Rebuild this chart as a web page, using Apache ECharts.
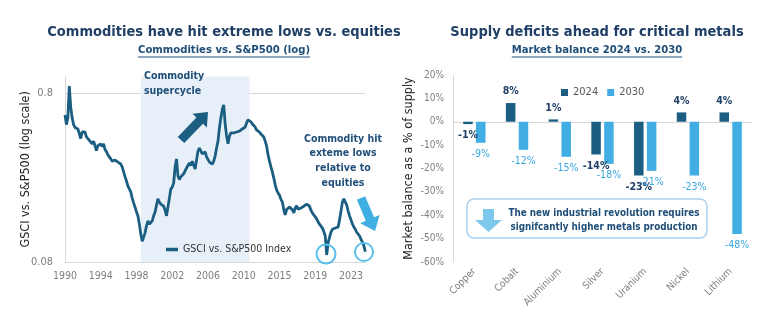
<!DOCTYPE html>
<html><head><meta charset="utf-8">
<script src="https://cdn.jsdelivr.net/npm/echarts@6/dist/echarts.min.js"></script>
<style>html,body{margin:0;padding:0;background:#fff}#c{width:768px;height:332px}</style>
</head><body><div id="c"></div>
<script>
const FONT = "'DejaVu Sans Condensed','DejaVu Sans',sans-serif";

// ---- left chart data ----
const xTickLabels = ['1990','1994','1998','2002','2006','2010','2015','2019','2023'];
const yTickLabels = ['0.08','0.8'];
const gsci = [
0.593,0.52,0.57,0.88,0.66,0.57,0.52,0.50,0.50,0.49,
0.46,0.43,0.47,0.46,0.47,0.44,0.45,0.42,0.42,0.40,
0.415,0.39,0.365,0.39,0.38,0.40,0.385,0.40,0.37,0.36,
0.344,0.335,0.326,0.316,0.312,0.321,0.316,0.312,0.308,0.304,
0.292,0.273,0.255,0.241,0.225,0.219,0.208,0.191,0.179,0.169,
0.158,0.150,0.134,0.117,0.106,0.107,0.119,0.131,0.140,0.134,
0.134,0.140,0.150,0.158,0.174,0.189,0.181,0.176,0.174,0.171,
0.162,0.150,0.154,0.191,0.216,0.222,0.235,0.292,0.326,0.258,
0.246,0.255,0.250,0.266,0.265,0.288,0.292,0.308,0.298,0.316,
0.312,0.284,0.321,0.363,0.378,0.363,0.349,0.358,0.358,0.335,
0.326,0.312,0.304,0.304,0.316,0.339,0.378,0.415,0.497,0.569,
0.64,0.68,0.524,0.445,0.40,0.445,0.464,0.457,0.464,0.470,
0.470,0.476,0.476,0.483,0.490,0.497,0.503,0.532,0.554,0.547,
0.54,0.524,0.51,0.503,0.483,0.476,0.470,0.457,0.451,0.439,
0.415,0.388,0.344,0.316,0.292,0.273,0.251,0.229,0.213,0.205,
0.199,0.188,0.181,0.163,0.152,0.164,0.161,0.169,0.173,0.163,
0.156,0.167,0.172,0.164,0.160,0.167,0.164,0.171,0.168,0.176,
0.179,0.171,0.162,0.156,0.152,0.148,0.144,0.138,0.134,0.131,
0.127,0.121,0.114,0.088,0.104,0.112,0.12,0.125,0.125,0.127,
0.129,0.129,0.142,0.160,0.181,0.189,0.181,0.174,0.160,0.150,
0.142,0.134,0.129,0.125,0.12,0.119,0.114,0.109,0.105,0.100,
0.092
];
const supercycle = [53, 129]; // category index range of the shaded band

// ---- right chart data ----
const metals = ['Copper','Cobalt','Aluminium','Silver','Uranium','Nickel','Lithium'];
const bal2024 = [-1, 8, 1, -14, -23, 4, 4];
const bal2030 = [-9, -12, -15, -18, -21, -23, -48];

const NAVY = '#1f3f66', NAVY2 = '#1f4e79', DARK = '#1b5e82', LIGHT = '#41ade2', GRAY = '#7f7f7f';
const xCats = gsci.map((_, i) => String(i));
const logMaxSpan = Math.log10(1 / 0.08);

function arrowPts(x1, y1, x2, y2, sw, hw, hl) {
  const dx = x2 - x1, dy = y2 - y1, L = Math.hypot(dx, dy);
  const ux = dx / L, uy = dy / L, nx = -uy, ny = ux;
  const bx = x2 - ux * hl, by = y2 - uy * hl;
  return [
    [x1 + nx * sw / 2, y1 + ny * sw / 2], [bx + nx * sw / 2, by + ny * sw / 2],
    [bx + nx * hw / 2, by + ny * hw / 2], [x2, y2],
    [bx - nx * hw / 2, by - ny * hw / 2], [bx - nx * sw / 2, by - ny * sw / 2],
    [x1 - nx * sw / 2, y1 - ny * sw / 2]
  ];
}
const mctx = document.createElement('canvas').getContext('2d');
function tw(text, font) { mctx.font = font; return mctx.measureText(text).width; }

const titleFont = 'bold 14.5px ' + FONT, subFont = 'bold 11.2px ' + FONT;
function titleGroup(cx, title, sub) {
  const w = tw(sub, subFont);
  return [
    { type: 'text', x: cx, y: 32, z: 100, style: { text: title, font: titleFont, fill: NAVY, align: 'center', verticalAlign: 'middle' } },
    { type: 'text', x: cx, y: 50.5, z: 100, style: { text: sub, font: subFont, fill: NAVY2, align: 'center', verticalAlign: 'middle' } },
    { type: 'line', z: 100, shape: { x1: cx - w / 2, y1: 57, x2: cx + w / 2, y2: 57 }, style: { stroke: NAVY2, lineWidth: 1 } }
  ];
}

const chart = echarts.init(document.getElementById('c'), null, { renderer: 'canvas' });
chart.setOption({
  animation: false,
  textStyle: { fontFamily: FONT },
  grid: [
    { left: 65, top: 76.6, width: 300.3, height: 185.4 },
    { left: 453, top: 75, right: 16, height: 187 }
  ],
  legend: [
    { data: ['GSCI vs. S&P500 Index'], left: 161, top: 239, icon: 'rect', itemWidth: 12, itemHeight: 3.5, itemGap: 4,
      textStyle: { fontSize: 10.5, color: '#333', fontFamily: FONT } },
    { data: ['2024', '2030'], left: 556, top: 82, icon: 'rect', itemWidth: 7, itemHeight: 7, itemGap: 9,
      textStyle: { fontSize: 11, color: '#595959', fontFamily: FONT } }
  ],
  xAxis: [
    { type: 'category', gridIndex: 0, data: xCats, boundaryGap: false,
      axisLine: { onZero: false, lineStyle: { color: '#d9d9d9' } }, axisTick: { show: false },
      axisLabel: { interval: 24, color: GRAY, fontSize: 10.5, margin: 9,
        formatter: (v, i) => xTickLabels[Math.round(i / 25)] || '' } },
    { type: 'category', gridIndex: 1, data: metals,
      axisLine: { show: false, onZero: false }, axisTick: { show: false },
      axisLabel: { rotate: 45, color: GRAY, fontSize: 10, margin: 8, interval: 0 } }
  ],
  yAxis: [
    { type: 'log', logBase: 10, gridIndex: 0, min: 0.08, max: 1,
      axisLine: { show: true, lineStyle: { color: '#d9d9d9' } }, axisTick: { show: false },
      axisLabel: { show: false }, splitLine: { show: false } },
    { type: 'value', gridIndex: 0, position: 'left', min: 0, max: logMaxSpan, interval: 1,
      axisLine: { show: false }, axisTick: { show: false },
      axisLabel: { color: GRAY, fontSize: 11, margin: 12, formatter: (v, i) => yTickLabels[i] || '' },
      splitLine: { show: true, lineStyle: { color: ['rgba(0,0,0,0)', '#d9d9d9', 'rgba(0,0,0,0)'], width: 1 } },
      name: 'GSCI vs. S&P500 (log scale)', nameLocation: 'middle', nameGap: 33, nameMoveOverlap: false,
      nameTextStyle: { fontSize: 12.5, color: '#222', fontFamily: FONT } },
    { type: 'value', gridIndex: 1, min: -60, max: 20, interval: 10,
      axisLine: { show: true, lineStyle: { color: '#d9d9d9' } }, axisTick: { show: false },
      axisLabel: { color: GRAY, fontSize: 10, margin: 9, formatter: '{value}%' },
      splitLine: { show: true, lineStyle: { color: ['rgba(0,0,0,0)','rgba(0,0,0,0)','rgba(0,0,0,0)','rgba(0,0,0,0)','rgba(0,0,0,0)','rgba(0,0,0,0)','#d9d9d9','rgba(0,0,0,0)','rgba(0,0,0,0)'] } },
      name: 'Market balance as a % of supply', nameLocation: 'middle', nameGap: 38,
      nameTextStyle: { fontSize: 12.5, color: '#222', fontFamily: FONT } }
  ],
  series: [
    { name: 'GSCI vs. S&P500 Index', type: 'line', xAxisIndex: 0, yAxisIndex: 0, data: gsci,
      showSymbol: false, symbol: 'none', lineStyle: { width: 2.8, color: DARK }, itemStyle: { color: DARK }, z: 3,
      markArea: { silent: true, itemStyle: { color: '#e7f0f9' },
        data: [[{ xAxis: xCats[supercycle[0]] }, { xAxis: xCats[supercycle[1]] }]] } },
    { name: '2024', type: 'bar', xAxisIndex: 1, yAxisIndex: 2, barWidth: 9.5, barGap: '35%',
      itemStyle: { color: DARK },
      data: bal2024.map(v => ({ value: v, label: { position: v < 0 ? 'bottom' : 'top' } })),
      label: { show: true, distance: 6, color: NAVY, fontWeight: 'bold', fontSize: 10.5, fontFamily: FONT, formatter: p => p.value + '%' } },
    { name: '2030', type: 'bar', xAxisIndex: 1, yAxisIndex: 2, barWidth: 9.5, barGap: '35%',
      itemStyle: { color: LIGHT },
      data: bal2030.map(v => ({ value: v, label: { position: v < 0 ? 'bottom' : 'top' } })),
      label: { show: true, distance: 6, color: '#3aa7df', fontSize: 10.5, fontFamily: FONT, formatter: p => p.value + '%' } }
  ],
  graphic: [
    ...titleGroup(224, 'Commodities have hit extreme lows vs. equities', 'Commodities vs. S&P500 (log)'),
    ...titleGroup(597, 'Supply deficits ahead for critical metals', 'Market balance 2024 vs. 2030'),
    { type: 'text', x: 144, y: 84, z: 100, style: { text: 'Commodity\nsupercycle', font: 'bold 10.5px ' + FONT, lineHeight: 15, fill: NAVY2, align: 'left', verticalAlign: 'middle' } },
    { type: 'polygon', z: 100, shape: { points: arrowPts(181, 140, 208, 112, 9, 20, 12) }, style: { fill: DARK } },
    { type: 'text', x: 343, y: 161, z: 100, style: { text: 'Commodity hit\nexteme lows\nrelative to\nequities', font: 'bold 10.5px ' + FONT, lineHeight: 14.7, fill: NAVY2, align: 'center', verticalAlign: 'middle' } },
    { type: 'polygon', z: 100, shape: { points: arrowPts(361, 198, 375, 231, 9, 21, 13) }, style: { fill: '#3eaee3' } },
    { type: 'circle', z: 100, shape: { cx: 326, cy: 254, r: 9.5 }, style: { fill: 'none', stroke: '#5bc1ec', lineWidth: 2 } },
    { type: 'circle', z: 100, shape: { cx: 364, cy: 252, r: 9 }, style: { fill: 'none', stroke: '#5bc1ec', lineWidth: 2 } },
    { type: 'rect', z: 100, shape: { x: 467, y: 199, width: 240, height: 39, r: 7 }, style: { fill: '#fff', stroke: '#a9d1ef', lineWidth: 1.5 } },
    { type: 'polygon', z: 101, shape: { points: arrowPts(488.5, 209, 488.5, 232, 11, 27, 12) }, style: { fill: '#7ec8ec' } },
    { type: 'text', x: 604, y: 220.5, z: 101, style: { text: 'The new industrial revolution requires\nsignifcantly higher metals production', font: 'bold 9.8px ' + FONT, lineHeight: 14.5, fill: NAVY2, align: 'center', verticalAlign: 'middle' } }
  ]
});
</script></body></html>
